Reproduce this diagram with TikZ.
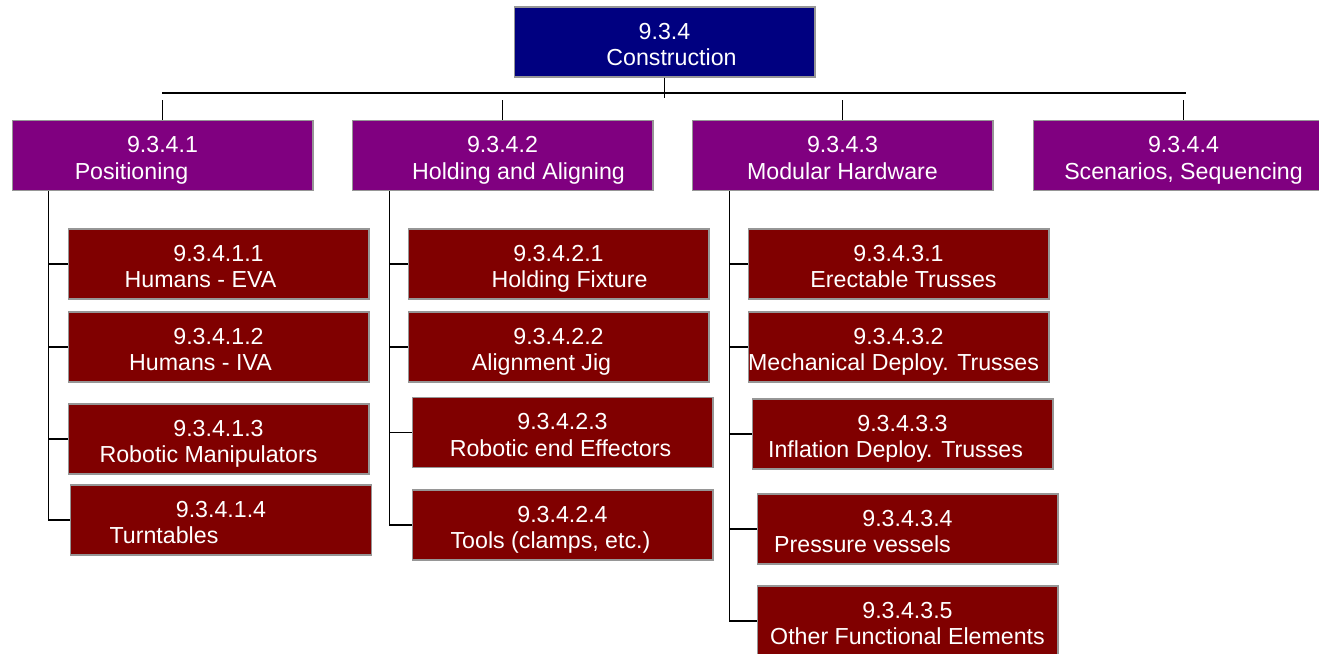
\documentclass[tikz,border=0pt]{standalone}
\usepackage{fontspec}
\setmainfont{Liberation Sans}
\definecolor{wbsnavy}{RGB}{0,0,128}
\definecolor{wbspurple}{RGB}{128,0,128}
\definecolor{wbsred}{RGB}{128,0,0}
\definecolor{wbsedge}{RGB}{150,150,150}
\begin{document}
\begin{tikzpicture}[x=0.02cm,y=-0.02cm,
    wbsbox/.style={draw=wbsedge,line width=0.6pt,text=white,inner sep=0pt,
        minimum width=6.02cm,minimum height=1.4cm,align=center,
        font=\fontsize{13.2}{15.3}\selectfont},
    wbstop/.style={wbsbox,fill=wbsnavy},
    wbsmid/.style={wbsbox,fill=wbspurple},
    wbsleaf/.style={wbsbox,fill=wbsred},
    link/.style={line width=0.6pt}]
    \useasboundingbox (0,0) rectangle (1319,653);
    % top level
    \node[wbstop] (top) at (664.5,42)
        {\rule{0pt}{0.52cm}9.3.4\\\hspace*{0.28cm}Construction\rule[-0.1cm]{0pt}{0pt}};
    % second level
    \foreach \id/\x/\code/\txt/\sh in {
        p1/162.5/9.3.4.1/Positioning/-1.24,
        p2/502.5/9.3.4.2/Holding and Aligning/0.64,
        p3/842.5/9.3.4.3/Modular Hardware/0,
        p4/1183.5/9.3.4.4/{Scenarios, Sequencing}/0
    } {
        \node[wbsmid] (\id) at (\x,155.5)
            {\rule{0pt}{0.52cm}\code\\\hspace*{\sh cm}\txt\rule[-0.1cm]{0pt}{0pt}};
        \draw[link] (\id.north) -- ++(0,-20);
    }
    \coordinate (barl) at (162,93);
    \coordinate (barr) at (1186,93);
    \draw[link] (barl) -- (barr);
    \draw[link] (top.south) -- ++(0,20);
    % third level
    \foreach \id/\x/\y/\code/\txt/\sh in {
        r11/218.5/264/9.3.4.1.1/Humans - EVA/-0.72,
        r12/218.5/347/9.3.4.1.2/Humans - IVA/-0.72,
        r13/218.5/439/9.3.4.1.3/Robotic Manipulators/-0.4,
        r14/221/520/9.3.4.1.4/Turntables/-2.28,
        r21/558.5/264/9.3.4.2.1/Holding Fixture/0.44,
        r22/558.5/347/9.3.4.2.2/Alignment Jig/-0.68,
        r23/562.5/432.5/9.3.4.2.3/Robotic end Effectors/-0.08,
        r24/562.5/525/9.3.4.2.4/{Tools (clamps, etc.)}/-0.48,
        r31/898.5/264/9.3.4.3.1/Erectable Trusses/0.2,
        r32/898.5/347/9.3.4.3.2/Mechanical Deploy. Trusses/-0.2,
        r33/902.5/434/9.3.4.3.3/Inflation Deploy. Trusses/-0.28,
        r34/907.5/529/9.3.4.3.4/Pressure vessels/-1.8,
        r35/907.5/621/9.3.4.3.5/Other Functional Elements/0
    } {
        \node[wbsleaf] (\id) at (\x,\y)
            {\rule{0pt}{0.52cm}\code\\\hspace*{\sh cm}\txt\rule[-0.1cm]{0pt}{0pt}};
    }
    % trunks
    \draw[link] (p1.south west) ++(37,0) coordinate (t1);
    \draw[link] (p2.south west) ++(38,0) coordinate (t2);
    \draw[link] (p3.south west) ++(38,0) coordinate (t3);
    \foreach \c in {r11,r12,r13,r14} \draw[link] (t1) |- (\c.west);
    \foreach \c in {r21,r22,r23,r24} \draw[link] (t2) |- (\c.west);
    \foreach \c in {r31,r32,r33,r34,r35} \draw[link] (t3) |- (\c.west);
\end{tikzpicture}
\end{document}
